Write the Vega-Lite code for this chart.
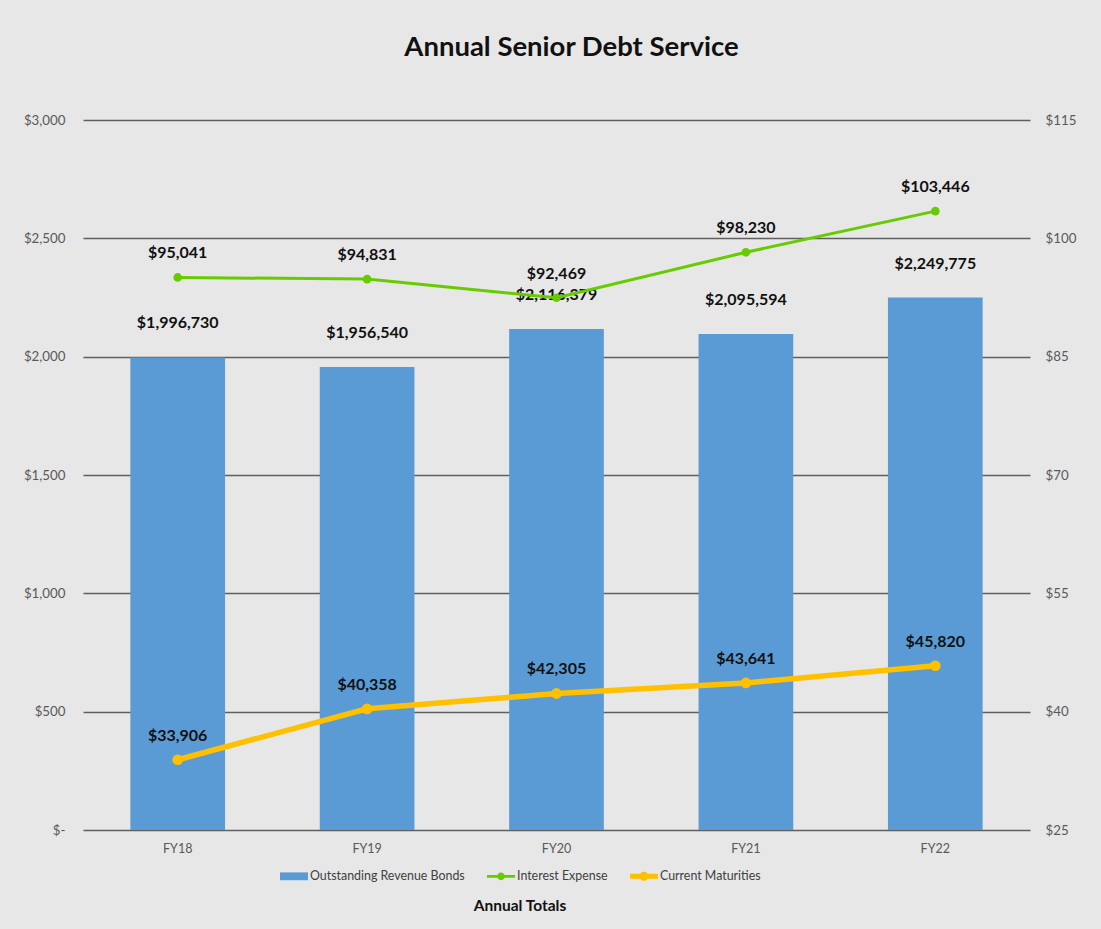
{
  "$schema": "https://vega.github.io/schema/vega-lite/v6.json",
  "width": 947,
  "height": 710,
  "autosize": {"type": "none"},
  "padding": {"left": 83, "top": 120, "right": 71, "bottom": 99},
  "background": "#e7e7e7",
  "title": {"text": "Annual Senior Debt Service", "fontSize": 27.5, "font": "Lato", "fontWeight": "bold", "color": "#111111", "anchor": "middle", "offset": 52, "dx": 15},
  "datasets": {
    "bonds": [
      {"fy": "FY18", "series": "Outstanding Revenue Bonds", "value": 1996730},
      {"fy": "FY19", "series": "Outstanding Revenue Bonds", "value": 1956540},
      {"fy": "FY20", "series": "Outstanding Revenue Bonds", "value": 2116379},
      {"fy": "FY21", "series": "Outstanding Revenue Bonds", "value": 2095594},
      {"fy": "FY22", "series": "Outstanding Revenue Bonds", "value": 2249775}
    ],
    "lines": [
      {"fy": "FY18", "series": "Interest Expense", "value": 95041},
      {"fy": "FY19", "series": "Interest Expense", "value": 94831},
      {"fy": "FY20", "series": "Interest Expense", "value": 92469},
      {"fy": "FY21", "series": "Interest Expense", "value": 98230},
      {"fy": "FY22", "series": "Interest Expense", "value": 103446},
      {"fy": "FY18", "series": "Current Maturities", "value": 33906},
      {"fy": "FY19", "series": "Current Maturities", "value": 40358},
      {"fy": "FY20", "series": "Current Maturities", "value": 42305},
      {"fy": "FY21", "series": "Current Maturities", "value": 43641},
      {"fy": "FY22", "series": "Current Maturities", "value": 45820}
    ]
  },
  "config": {
    "view": {"stroke": null},
    "axis": {"labelFont": "Lato", "labelFontSize": 13.3, "labelColor": "#595959"}
  },
  "layer": [
    {
      "data": {"name": "bonds"},
      "encoding": {
        "x": {"field": "fy", "type": "ordinal", "scale": {"paddingInner": 0.5, "paddingOuter": 0.25},
              "axis": {"title": null, "labelAngle": 0, "domain": false, "ticks": false, "labelPadding": 12, "labelFontSize": 12.5}},
        "y": {"field": "value", "type": "quantitative", "scale": {"domain": [0, 3000000], "nice": false},
              "axis": {"orient": "left", "values": [0, 500000, 1000000, 1500000, 2000000, 2500000, 3000000],
                       "labelExpr": "datum.value == 0 ? '$-\u00a0\u00a0' : '$' + format(datum.value / 1000, ',')",
                       "grid": true, "gridColor": "#5f5f5f", "gridWidth": 1.3, "domain": false, "ticks": false, "title": null, "labelPadding": 18}}
      },
      "layer": [
        {
          "mark": {"type": "bar"},
          "encoding": {
            "color": {"field": "series", "type": "nominal",
              "scale": {"domain": ["Outstanding Revenue Bonds", "Interest Expense", "Current Maturities"], "range": ["#5B9BD5", "#66CC00", "#FFC000"]},
              "legend": {"orient": "none", "legendX": 197, "legendY": 742, "direction": "horizontal",
                "title": "Annual Totals", "titleOrient": "bottom", "titleAnchor": "middle", "titleFont": "Lato", "titleFontSize": 15.5, "titleFontWeight": "bold", "titleColor": "#111111", "titlePadding": 16,
                "labelFont": "Lato", "labelFontSize": 12.4, "labelColor": "#404040", "labelOffset": 2, "columnPadding": 22,
                "symbolSize": 784, "symbolStrokeWidth": 0,
                "encode": {"symbols": {"update": {
                  "shape": {"signal": "datum.value === 'Outstanding Revenue Bonds' ? 'M-1,-0.28H1V0.28H-1Z' : datum.value === 'Interest Expense' ? 'M-1,-0.1H1V0.1H-1Z M0.28,0A0.28,0.28 0 1,1 -0.28,0A0.28,0.28 0 1,1 0.28,0Z' : 'M-1,-0.18H1V0.18H-1Z M0.32,0A0.32,0.32 0 1,1 -0.32,0A0.32,0.32 0 1,1 0.32,0Z'"},
                  "fill": {"signal": "datum.value === 'Outstanding Revenue Bonds' ? '#5B9BD5' : datum.value === 'Interest Expense' ? '#66CC00' : '#FFC000'"},
                  "stroke": {"value": "transparent"},
                  "opacity": {"value": 1}
                }}}
              }}
          }
        },
        {
          "mark": {"type": "text", "font": "Lato", "fontWeight": "bold", "fontSize": 16, "color": "#111111", "dy": -34},
          "encoding": {"text": {"field": "value", "type": "quantitative", "format": "$,.0f"}}
        }
      ]
    },
    {
      "data": {"name": "lines"},
      "encoding": {
        "x": {"field": "fy", "type": "ordinal"},
        "y": {"field": "value", "type": "quantitative", "scale": {"domain": [25000, 115000], "zero": false, "nice": false},
              "axis": {"orient": "right", "values": [25000, 40000, 55000, 70000, 85000, 100000, 115000],
                       "labelExpr": "'$' + format(datum.value / 1000, ',')",
                       "grid": false, "domain": false, "ticks": false, "title": null, "labelPadding": 15}}
      },
      "layer": [
        {
          "mark": {"type": "line"},
          "encoding": {
            "color": {"field": "series", "type": "nominal"},
            "strokeWidth": {"field": "series", "type": "nominal", "scale": {"domain": ["Interest Expense", "Current Maturities"], "range": [3, 5.5]}, "legend": null}
          }
        },
        {
          "mark": {"type": "point", "filled": true, "opacity": 1},
          "encoding": {
            "color": {"field": "series", "type": "nominal"},
            "size": {"field": "series", "type": "nominal", "scale": {"domain": ["Interest Expense", "Current Maturities"], "range": [75, 115]}, "legend": null}
          }
        },
        {
          "mark": {"type": "text", "font": "Lato", "fontWeight": "bold", "fontSize": 16, "color": "#111111", "dy": -24},
          "encoding": {"text": {"field": "value", "type": "quantitative", "format": "$,.0f"}}
        }
      ]
    }
  ],
  "resolve": {"scale": {"y": "independent"}}
}
